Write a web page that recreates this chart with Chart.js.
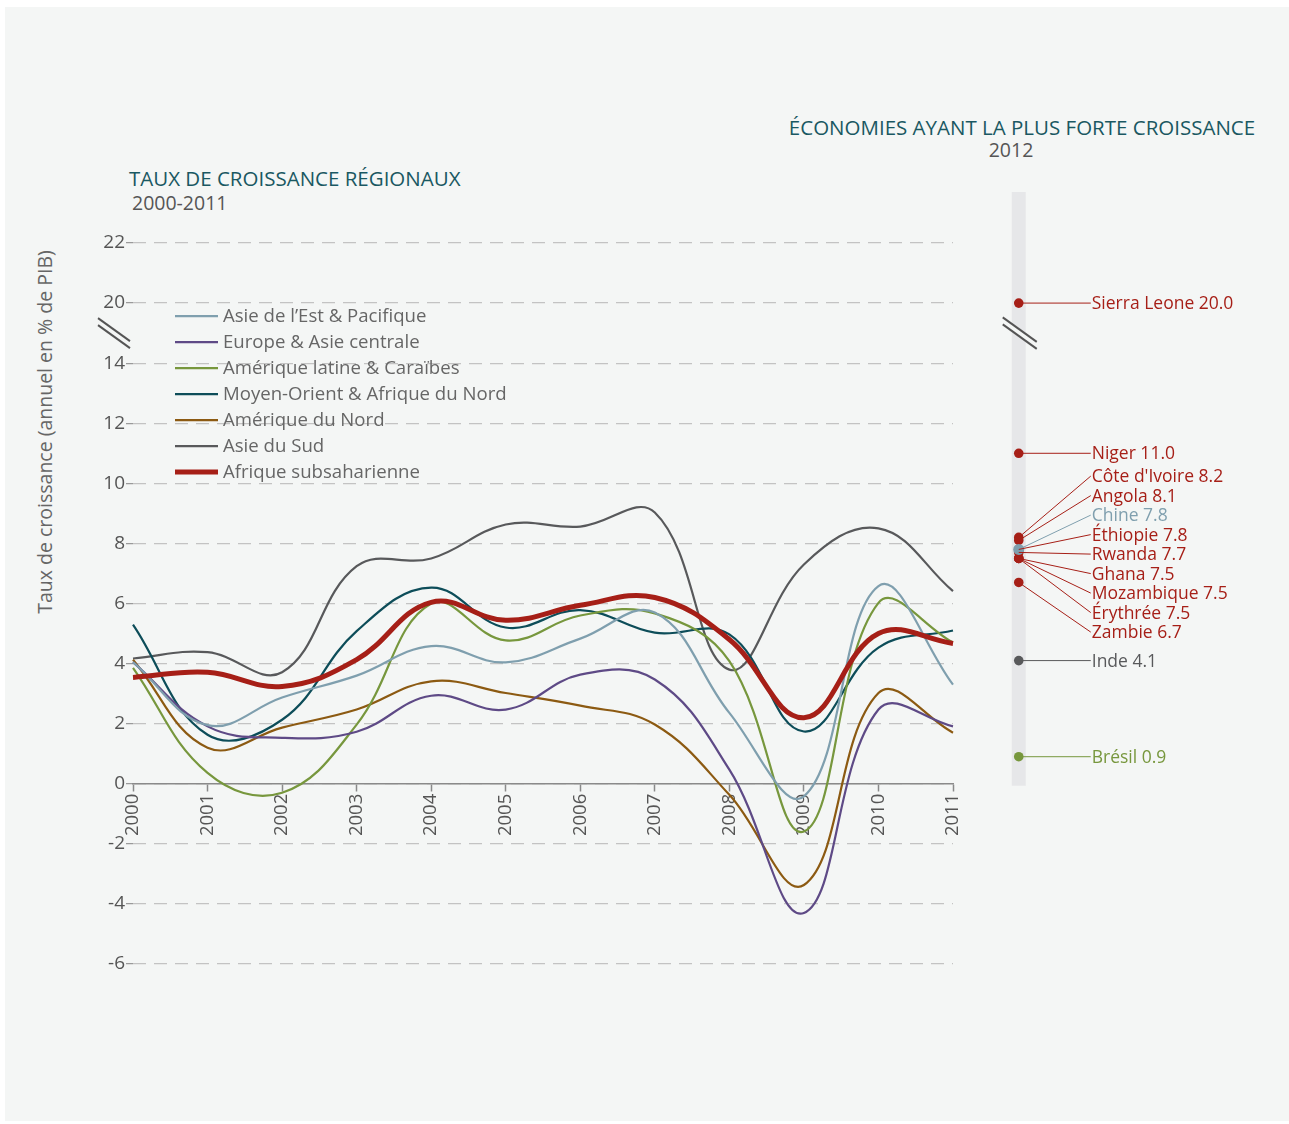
<!DOCTYPE html>
<html lang="fr">
<head>
<meta charset="utf-8">
<title>Taux de croissance régionaux</title>
<script src="https://cdn.jsdelivr.net/npm/chart.js@4.4.1/dist/chart.umd.min.js"></script>
<style>
  body { margin: 0; background: #fff; font-family: 'Open Sans', sans-serif; }
  #page { position: relative; width: 1289px; height: 1124px; }
  #panel { position: absolute; left: 5px; top: 7px; width: 1284px; height: 1114px; background: #f4f6f5; }
  canvas { position: absolute; top: 0; }
  .title { position: absolute; color: #1a5862; font-size: 20.5px; line-height: 1; white-space: nowrap; }
  .sub { position: absolute; color: #555; font-size: 19.5px; line-height: 1; white-space: nowrap; }
  #ytitle { position: absolute; left: 45px; top: 432px; color: #666; font-size: 19.5px; line-height: 1;
            white-space: nowrap; transform: translate(-50%, -50%) rotate(-90deg); }
</style>
</head>
<body>
<div id="page">
  <div id="panel"></div>
  <div class="title" style="left:129px; top:168px;">TAUX DE CROISSANCE RÉGIONAUX</div>
  <div class="sub" style="left:132px; top:193px;">2000-2011</div>
  <div class="title" style="left:1022px; top:117px; transform:translateX(-50%);">ÉCONOMIES AYANT LA PLUS FORTE CROISSANCE</div>
  <div class="sub" style="left:1011px; top:140px; transform:translateX(-50%);">2012</div>
  <div id="ytitle">Taux de croissance (annuel en % de PIB)</div>
  <canvas id="mainChart" width="1289" height="1124" style="left:0"></canvas>
  <canvas id="sideChart" width="329" height="1124" style="left:960px"></canvas>
</div>
<script>
// --- données régionales 2000-2011 (% du PIB)
const years = ['2000', '2001', '2002', '2003', '2004', '2005', '2006', '2007', '2008', '2009', '2010', '2011'];
const asieEst = [4.05, 1.95, 2.87, 3.6, 4.58, 4.04, 4.83, 5.7, 2.36, -0.42, 6.58, 3.3];
const europeAsieC = [4.05, 1.91, 1.53, 1.73, 2.93, 2.47, 3.63, 3.47, 0.47, -4.3, 2.47, 1.91];
const ameriqueLatine = [3.86, 0.36, -0.3, 1.97, 6.0, 4.77, 5.6, 5.67, 4.08, -1.59, 6.02, 4.7];
const moyenOrient = [5.3, 1.63, 2.13, 5.08, 6.53, 5.2, 5.78, 5.03, 4.97, 1.74, 4.53, 5.1];
const ameriqueNord = [4.13, 1.2, 1.87, 2.47, 3.41, 3.02, 2.6, 1.97, -0.37, -3.37, 3.02, 1.7];
const asieSud = [4.17, 4.38, 3.71, 7.24, 7.5, 8.63, 8.56, 9.03, 3.8, 7.3, 8.5, 6.41];
const afriqueSub = [3.54, 3.71, 3.24, 4.13, 6.04, 5.44, 5.94, 6.2, 4.8, 2.2, 5.0, 4.67];

// --- économies les plus dynamiques, 2012
const countries = ['Sierra Leone', 'Niger', "Côte d'Ivoire", 'Angola', 'Chine', 'Éthiopie', 'Rwanda',
                   'Ghana', 'Mozambique', 'Érythrée', 'Zambie', 'Inde', 'Brésil'];
const growth2012 = [20.0, 11.0, 8.2, 8.1, 7.8, 7.8, 7.7, 7.5, 7.5, 7.5, 6.7, 4.1, 0.9];
const countryRegion = ['afr', 'afr', 'afr', 'afr', 'eap', 'afr', 'afr', 'afr', 'afr', 'afr', 'afr', 'sas', 'lac'];

// axis ticks (the axis is cut between 14 and 20)
const yTicks = [-6, -4, -2, 0, 2, 4, 6, 8, 10, 12, 14, 20, 22];
const BREAK_FROM = 20, BREAK_GAP = 4;

const colors = {
    eap: '#7f9fae', eca: '#5e4a86', lac: '#77973d', mna: '#0d4d59',
    nam: '#8c5a12', sas: '#58595b', afr: '#a61f17'
};
const bg = '#f4f6f5';
const FONT = "'Open Sans', sans-serif";

// map a real value to its position on the broken axis
const axisPos = v => v >= BREAK_FROM - 1 ? v - BREAK_GAP : v;
const axisLabel = p => { const t = yTicks.find(v => axisPos(v) === p); return t === undefined ? '' : t; };

const series = [
    { label: 'Asie de l\u2019Est & Pacifique', data: asieEst, color: colors.eap },
    { label: 'Europe & Asie centrale', data: europeAsieC, color: colors.eca },
    { label: 'Amérique latine & Caraïbes', data: ameriqueLatine, color: colors.lac },
    { label: 'Moyen-Orient & Afrique du Nord', data: moyenOrient, color: colors.mna },
    { label: 'Amérique du Nord', data: ameriqueNord, color: colors.nam },
    { label: 'Asie du Sud', data: asieSud, color: colors.sas },
    { label: 'Afrique subsaharienne', data: afriqueSub, color: colors.afr, thick: true }
];

function drawBreak(ctx, cx, cy, len) {
    const dx = len / 2, dy = len * 0.36;
    ctx.save();
    ctx.lineCap = 'butt';
    ctx.strokeStyle = bg;
    ctx.lineWidth = 7;
    ctx.beginPath(); ctx.moveTo(cx - dx, cy - dy); ctx.lineTo(cx + dx, cy + dy); ctx.stroke();
    ctx.strokeStyle = '#555';
    ctx.lineWidth = 2;
    [-3.5, 3.5].forEach(o => {
        ctx.beginPath(); ctx.moveTo(cx - dx, cy - dy + o); ctx.lineTo(cx + dx, cy + dy + o); ctx.stroke();
    });
    ctx.restore();
}

const legendPlugin = {
    id: 'sideLegend',
    afterDraw(chart) {
        const ctx = chart.ctx;
        const x0 = chart.chartArea.left + 42;
        const y0 = chart.scales.y.getPixelForValue(axisPos(20)) + 13;
        ctx.save();
        ctx.font = '18.6px ' + FONT;
        ctx.textBaseline = 'middle';
        chart.data.datasets.forEach((ds, i) => {
            const y = y0 + i * 26;
            ctx.strokeStyle = ds.borderColor;
            ctx.lineWidth = ds.borderWidth;
            ctx.beginPath(); ctx.moveTo(x0, y); ctx.lineTo(x0 + 43, y); ctx.stroke();
            ctx.fillStyle = '#666';
            ctx.fillText(ds.label, x0 + 48, y + 1);
        });
        // axis cut mark
        const yb = chart.scales.y.getPixelForValue(15);
        drawBreak(ctx, chart.chartArea.left - 19, yb, 32);
        ctx.restore();
    }
};

new Chart(document.getElementById('mainChart'), {
    type: 'line',
    data: {
        labels: years,
        datasets: series.map(s => ({
            label: s.label,
            data: s.data,
            borderColor: s.color,
            backgroundColor: s.color,
            borderWidth: s.thick ? 5 : 2.2,
            pointRadius: 0,
            tension: 0.4,
            order: s.thick ? 0 : 1
        }))
    },
    options: {
        responsive: false,
        animation: false,
        layout: { padding: { left: 0, top: 243, right: 336, bottom: 160 } },
        plugins: { legend: { display: false }, tooltip: { enabled: false } },
        scales: {
            x: {
                position: { y: 0 },
                offset: false,
                grid: { drawOnChartArea: false, drawTicks: true, tickLength: 7, color: '#8a8a8a', tickWidth: 1.5 },
                border: { display: true, color: '#8a8a8a', width: 1.5 },
                ticks: { color: '#555', font: { family: FONT, size: 18.5 }, minRotation: 90, maxRotation: 90, padding: 3 }
            },
            y: {
                min: -6, max: 18,
                afterFit: s => { s.width = 133; },
                afterBuildTicks: s => { s.ticks = yTicks.map(v => ({ value: axisPos(v) })); },
                grid: { color: '#c3c3c3', lineWidth: 1.2, tickLength: 7, tickColor: '#9a9a9a', tickBorderDash: [1, 0] },
                border: { display: false, dash: [13, 8] },
                ticks: {
                    color: '#555', font: { family: FONT, size: 19 }, padding: 1,
                    callback: v => axisLabel(v)
                }
            }
        }
    },
    plugins: [legendPlugin]
});

// ---------- right panel: 2012 fastest growing economies
const sidePoints = countries.map((c, i) => ({ x: 0, y: axisPos(growth2012[i]), v: growth2012[i], name: c, region: countryRegion[i] }));
const regionsDrawOrder = ['lac', 'sas', 'afr', 'eap'];

const sidePlugin = {
    id: 'sideLabels',
    beforeDatasetsDraw(chart) {
        const ctx = chart.ctx, xs = chart.scales.x, ys = chart.scales.y;
        const cx = xs.getPixelForValue(0);
        const top = chart.chartArea.top - 51, bottom = ys.getPixelForValue(0) + 2;
        ctx.save();
        ctx.fillStyle = '#e6e7e9';
        ctx.fillRect(cx - 7, top, 14, bottom - top);
        ctx.restore();
    },
    afterDatasetsDraw(chart) {
        const ctx = chart.ctx, xs = chart.scales.x, ys = chart.scales.y;
        const cx = xs.getPixelForValue(0);
        const labelX = cx + 73;
        const gap = 19.5;
        // spread the labels so they do not overlap
        const items = sidePoints.map(p => ({ p, want: ys.getPixelForValue(p.y) })).sort((a, b) => a.want - b.want);
        const topOf = g => g.list.reduce((s, e) => s + e.want, 0) / g.list.length - (g.list.length - 1) * gap / 2;
        const groups = [];
        items.forEach(it => {
            groups.push({ list: [it] });
            let merged = true;
            while (merged && groups.length > 1) {
                const b = groups[groups.length - 1], a = groups[groups.length - 2];
                if (topOf(a) + (a.list.length - 1) * gap + gap > topOf(b)) {
                    a.list = a.list.concat(b.list);
                    groups.pop();
                } else merged = false;
            }
        });
        ctx.save();
        ctx.font = '17.5px ' + FONT;
        ctx.textBaseline = 'middle';
        groups.forEach(g => {
            const t = topOf(g);
            g.list.forEach((e, k) => {
                const ly = t + k * gap;
                const col = colors[e.p.region];
                ctx.strokeStyle = col;
                ctx.lineWidth = 1;
                ctx.beginPath(); ctx.moveTo(cx, e.want); ctx.lineTo(labelX - 1, ly); ctx.stroke();
                ctx.fillStyle = col;
                ctx.fillText(e.p.name + ' ' + e.p.v.toFixed(1), labelX, ly + 1);
            });
        });
        ctx.restore();
    },
    afterDraw(chart) {
        const ys = chart.scales.y, xs = chart.scales.x;
        drawBreak(chart.ctx, xs.getPixelForValue(0) + 1, ys.getPixelForValue(15), 34);
    }
};

new Chart(document.getElementById('sideChart'), {
    type: 'scatter',
    data: {
        datasets: regionsDrawOrder.map((r, i) => ({
            data: sidePoints.filter(p => p.region === r),
            backgroundColor: colors[r],
            borderWidth: 0,
            pointRadius: r === 'eap' ? 5.5 : 4.8,
            order: regionsDrawOrder.length - i
        }))
    },
    options: {
        responsive: false,
        animation: false,
        layout: { padding: { left: 0, top: 243, right: 217, bottom: 160 } },
        plugins: { legend: { display: false }, tooltip: { enabled: false } },
        scales: {
            x: { type: 'linear', min: -1, max: 1, display: false },
            y: { min: -6, max: 18, display: false }
        }
    },
    plugins: [sidePlugin]
});
</script>
</body>
</html>
